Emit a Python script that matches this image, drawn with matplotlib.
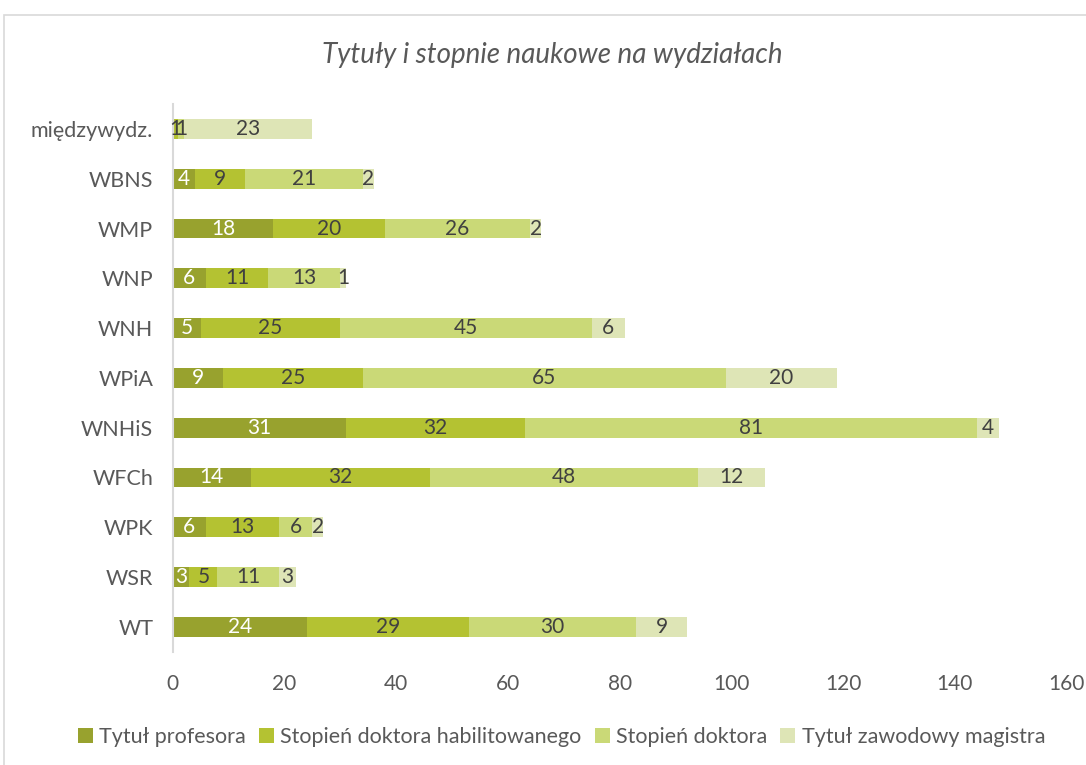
import matplotlib
matplotlib.use("Agg")
import matplotlib.pyplot as plt
from matplotlib.patches import Rectangle
import numpy as np

categories = ["WT", "WSR", "WPK", "WFCh", "WNHiS", "WPiA", "WNH", "WNP", "WMP", "WBNS", "międzywydz."]
series_names = ["Tytuł profesora", "Stopień doktora habilitowanego", "Stopień doktora", "Tytuł zawodowy magistra"]
profesor = [24, 3, 6, 14, 31, 9, 5, 6, 18, 4, 0]
habilitowany = [29, 5, 13, 32, 32, 25, 25, 11, 20, 9, 1]
doktor = [30, 11, 6, 48, 81, 65, 45, 13, 26, 21, 1]
magister = [9, 3, 2, 12, 4, 20, 6, 1, 2, 2, 23]
xticks = [0, 20, 40, 60, 80, 100, 120, 140, 160]

colors = ["#98A22E", "#B4C232", "#CAD977", "#DEE5B6"]
label_colors = ["white", "#404040", "#404040", "#404040"]

plt.rcParams['font.family'] = ['Lato', 'DejaVu Sans']

fig = plt.figure(figsize=(10.86, 7.65), dpi=100)
ax = fig.add_axes([0.159, 0.148, 0.823, 0.716])

# chart border
fig.patches.append(Rectangle((4/1086, -0.01), 1.1, 1 - 15/765 + 0.01, transform=fig.transFigure,
                             fill=False, edgecolor="#D9D9D9", linewidth=1.2))

y = np.arange(len(categories))
left = np.zeros(len(categories))
data = [profesor, habilitowany, doktor, magister]
for vals, name, c, lc in zip(data, series_names, colors, label_colors):
    vals = np.array(vals, dtype=float)
    ax.barh(y, vals, left=left, height=0.4, color=c, label=name, edgecolor='none')
    for yi, (l, v) in enumerate(zip(left, vals)):
        if v > 0:
            ax.text(l + v / 2, yi, f"{int(v)}", ha="center", va="center", color=lc, fontsize=15)
    left += vals

ax.set_xlim(0, 160)
ax.set_ylim(-0.5, len(categories) - 0.5)
ax.set_yticks(y)
ax.set_yticklabels(categories, fontsize=15.5, color="#595959")
ax.set_xticks(xticks)
ax.set_xticklabels([str(t) for t in xticks], fontsize=15, color="#595959")
ax.tick_params(axis='both', length=0)
ax.tick_params(axis='x', pad=16)
ax.tick_params(axis='y', pad=14)
for s in ["top", "right", "bottom"]:
    ax.spines[s].set_visible(False)
ax.spines["left"].set_color("#D9D9D9")
ax.spines["left"].set_linewidth(1.5)

fig.text(0.509, 1 - 55/765, "Tytuły i stopnie naukowe na wydziałach", ha="center", va="center",
         fontsize=20, style="italic", fontweight="normal", color="#595959")

fig.legend(loc="center", bbox_to_anchor=(0.517, 1 - 737/765), ncol=4, frameon=False,
           fontsize=15.5, handlelength=0.7, handleheight=0.7, handletextpad=0.3, columnspacing=0.6,
           labelcolor="#595959")

fig.savefig("out.png", dpi=100)
